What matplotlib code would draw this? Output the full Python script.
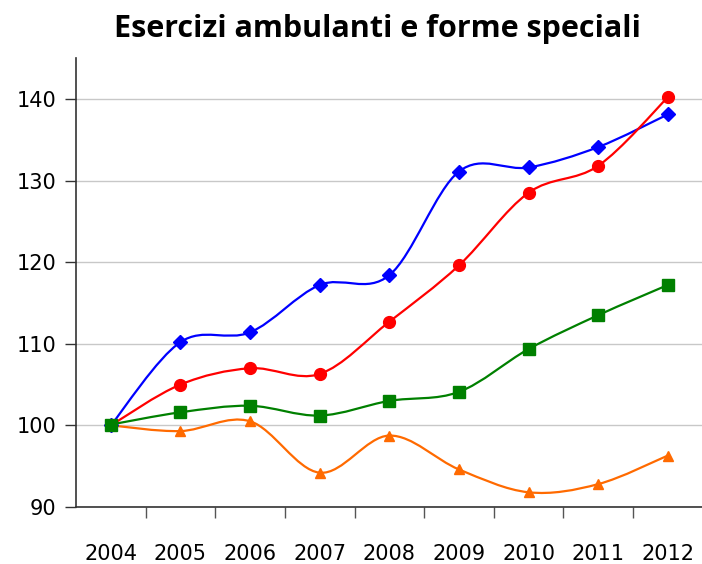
import numpy as np
import matplotlib
matplotlib.use('Agg')
import matplotlib.pyplot as plt
from matplotlib.path import Path
from matplotlib.patches import PathPatch

years = ['2004', '2005', '2006', '2007', '2008', '2009', '2010', '2011', '2012']

# Index values (2004 = 100)
blue_vals = [100.0, 110.2, 111.4, 117.2, 118.4, 131.1, 131.6, 134.1, 138.1]
red_vals = [100.0, 105.0, 107.0, 106.3, 112.7, 119.6, 128.5, 131.8, 140.2]
green_vals = [100.1, 101.6, 102.4, 101.2, 103.0, 104.1, 109.35, 113.5, 117.2]
orange_vals = [100.0, 99.3, 100.5, 94.2, 98.75, 94.6, 91.8, 92.8, 96.3]


def smooth_path(x, y):
    # cubic Bezier through the points (Catmull-Rom style control points)
    pts = np.column_stack([x, y]).astype(float)
    n = len(pts)
    verts = [pts[0]]
    codes = [Path.MOVETO]
    for i in range(n - 1):
        p0 = pts[max(i - 1, 0)]
        p1 = pts[i]
        p2 = pts[i + 1]
        p3 = pts[min(i + 2, n - 1)]
        c1 = p1 + (p2 - p0) / 6.
        c2 = p2 - (p3 - p1) / 6.
        verts += [c1, c2, p2]
        codes += [Path.CURVE4] * 3
    return Path(verts, codes)


fig = plt.figure(figsize=(7.02, 5.64), dpi=100)
ax = fig.add_axes([0.1083, 0.1011, 0.8926, 0.7959])

x = np.arange(len(years))
series = [
    (orange_vals, '#ff6a00', '^', 7),
    (blue_vals, '#0000ff', 'D', 7.5),
    (red_vals, '#ff0000', 'o', 8.5),
    (green_vals, '#008000', 's', 8),
]
for vals, color, marker, ms in series:
    patch = PathPatch(smooth_path(x, vals), facecolor='none', edgecolor=color,
                      lw=1.6, zorder=3)
    ax.add_patch(patch)
    ax.plot(x, vals, linestyle='none', marker=marker, color=color,
            markersize=ms, zorder=4)

ax.set_xlim(-0.5, 8.5)
ax.set_ylim(90, 145)

ax.set_yticks([90, 100, 110, 120, 130, 140])
ax.grid(axis='y', color='#c8c8c8', lw=1)
ax.set_axisbelow(True)

# boundaries between categories get the tick marks, centres get the labels
ax.set_xticks(np.arange(0.5, 8.5, 1.0))
ax.set_xticklabels([])
ax.set_xticks(x, minor=True)
ax.set_xticklabels(years, minor=True)
ax.tick_params(axis='x', which='major', length=8, width=1, color='#555555')
ax.tick_params(axis='x', which='minor', length=0, pad=27, labelsize=15)
ax.tick_params(axis='y', length=8, width=1, color='#333333', labelsize=15, pad=6)

for s in ['top', 'right']:
    ax.spines[s].set_visible(False)
for s in ['left', 'bottom']:
    ax.spines[s].set_color('#333333')
    ax.spines[s].set_linewidth(1.2)

fig.text(0.537, 0.948, 'Esercizi ambulanti e forme speciali', ha='center',
         va='center', fontsize=22, fontweight='bold', family='Open Sans')

fig.savefig('out.png', dpi=100)
